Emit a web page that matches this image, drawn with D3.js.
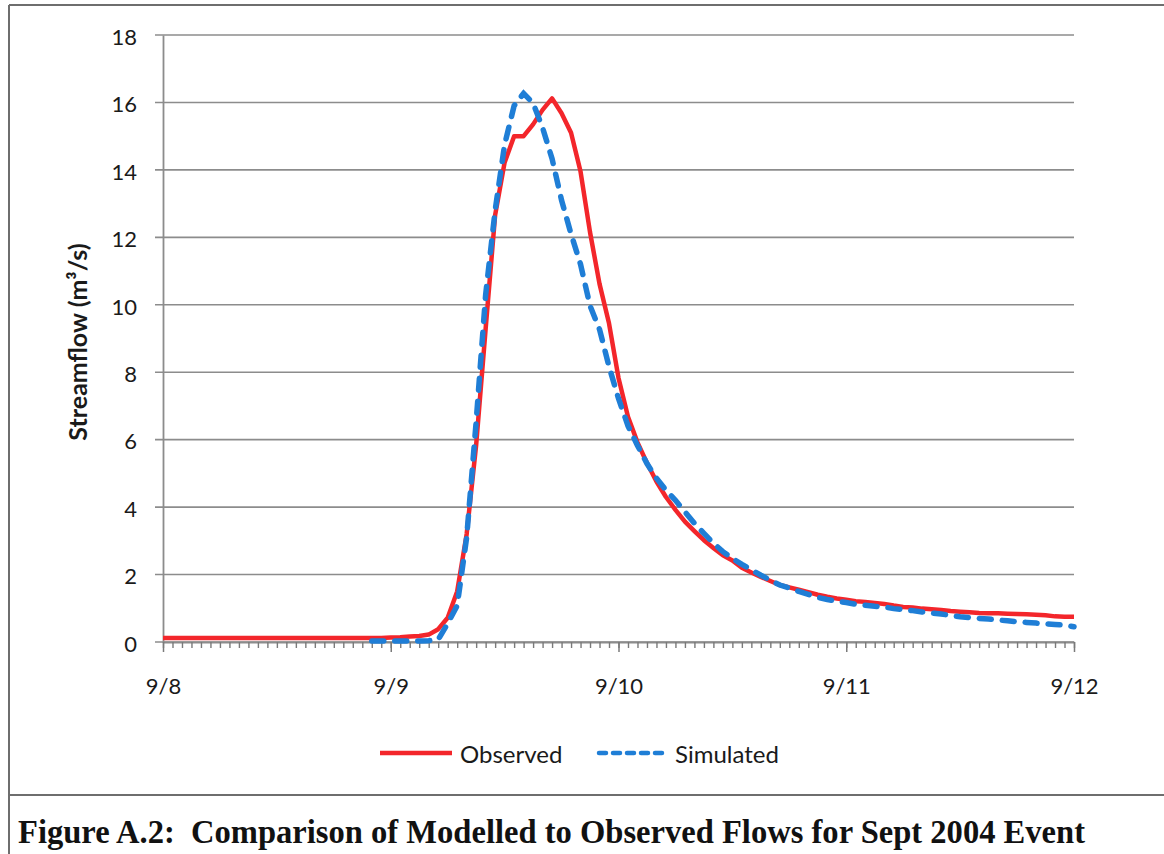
<!DOCTYPE html>
<html>
<head>
<meta charset="utf-8">
<script src="https://cdn.jsdelivr.net/npm/d3@7/dist/d3.min.js"></script>
<style>
  html, body { margin: 0; padding: 0; background: #fff; }
  svg { display: block; }
</style>
</head>
<body>
<svg id="chart" width="1164" height="854"></svg>
<script>
// ---------------- DATA ----------------
const dayLabels = ["9/8", "9/9", "9/10", "9/11", "9/12"];
const dayHours = [0, 24, 48, 72, 96];
const yTicks = [0, 2, 4, 6, 8, 10, 12, 14, 16, 18];
const seriesNames = ["Observed", "Simulated"];

// Observed streamflow (m3/s), hourly from 9/8 00:00 to 9/12 00:00
const observed = [
  0.12,0.12,0.12,0.12,0.12,0.12,0.12,0.12,0.12,0.12,0.12,0.12,
  0.12,0.12,0.12,0.12,0.12,0.12,0.12,0.12,0.12,0.12,0.12,0.12,
  0.13,0.14,0.16,0.18,0.22,0.38,0.72,1.5,3.2,5.84,9.29,12.66,
  14.22,15.0,15.0,15.35,15.78,16.12,15.68,15.1,13.95,12.15,10.62,9.45,
  7.83,6.68,5.92,5.31,4.76,4.3,3.92,3.57,3.29,3.02,2.79,2.57,
  2.42,2.2,2.06,1.93,1.81,1.69,1.62,1.55,1.48,1.4,1.34,1.29,
  1.25,1.21,1.19,1.16,1.13,1.08,1.04,1.02,0.99,0.97,0.95,0.92,
  0.9,0.88,0.86,0.85,0.85,0.84,0.83,0.82,0.81,0.79,0.76,0.75,
  0.75
];
// Simulated streamflow (m3/s), hourly, starting 9/8 22:00
const simStartHour = 22;
const simulated = [
  0.03,0.03,
  0.03,0.03,0.03,0.03,0.04,0.07,0.55,1.08,3.1,6.53,10.3,12.8,
  14.75,15.9,16.27,15.98,15.25,14.33,13.1,12.1,11.2,9.97,9.27,8.17,
  7.22,6.41,5.83,5.29,4.86,4.5,4.2,3.86,3.52,3.22,2.93,2.68,
  2.48,2.3,2.14,1.98,1.83,1.69,1.6,1.5,1.41,1.32,1.26,1.21,
  1.17,1.12,1.09,1.06,1.04,0.99,0.96,0.93,0.89,0.86,0.83,0.79,
  0.75,0.72,0.7,0.68,0.65,0.63,0.6,0.58,0.56,0.54,0.52,0.5,
  0.45
];

// ---------------- LAYOUT ----------------
const svg = d3.select("#chart");
const W = 1164, H = 854;
const plot = { left: 163, right: 1074, top: 35, bottom: 642 };
const gray = "#8c8c8c";
const red = "#f3262b";
const blue = "#1f7ed6";
const sansFont = "Lato, 'Open Sans', 'Noto Sans', sans-serif";

svg.append("rect").attr("width", W).attr("height", H).attr("fill", "#fff");

// frame
const frame = svg.append("g").attr("stroke", "#6e6e6e").attr("stroke-width", 2).attr("fill", "none");
frame.append("line").attr("x1", 9).attr("y1", 5).attr("x2", W).attr("y2", 5);
frame.append("line").attr("x1", 9).attr("y1", 5).attr("x2", 9).attr("y2", H);
frame.append("line").attr("x1", 9).attr("y1", 795).attr("x2", W).attr("y2", 795);

// scales
const x = d3.scaleLinear().domain([0, 96]).range([plot.left, plot.right]);
const y = d3.scaleLinear().domain([0, 18]).range([plot.bottom, plot.top]);

// gridlines (extend outward as tick marks)
svg.append("g")
  .selectAll("line")
  .data(yTicks)
  .join("line")
  .attr("x1", plot.left - 8)
  .attr("x2", plot.right)
  .attr("y1", d => y(d))
  .attr("y2", d => y(d))
  .attr("stroke", gray)
  .attr("stroke-width", 1.6);

// y axis
const yAxis = svg.append("g")
  .attr("transform", `translate(${plot.left},0)`)
  .call(d3.axisLeft(y).tickValues(yTicks).tickSize(0).tickPadding(26).tickFormat(d3.format("d")));
yAxis.select(".domain").attr("stroke", gray).attr("stroke-width", 1.8);
yAxis.selectAll("text")
  .attr("font-family", sansFont)
  .attr("font-size", 22)
  .attr("fill", "#1a1a1a")
  .attr("dy", "0.42em");

// x axis minor (hourly)
const xMinor = svg.append("g")
  .attr("transform", `translate(0,${plot.bottom})`)
  .call(d3.axisBottom(x).tickValues(d3.range(0, 97)).tickSize(6).tickSizeOuter(0).tickFormat(""));
xMinor.select(".domain").attr("stroke", gray).attr("stroke-width", 1.8);
xMinor.selectAll(".tick line").attr("stroke", "#7a7a7a").attr("stroke-width", 1.4);

// x axis major (daily)
const xMajor = svg.append("g")
  .attr("transform", `translate(0,${plot.bottom})`)
  .call(d3.axisBottom(x).tickValues(dayHours).tickSize(10).tickSizeOuter(0)
        .tickFormat((d, i) => dayLabels[i]));
xMajor.select(".domain").remove();
xMajor.selectAll(".tick line").attr("stroke", "#7a7a7a").attr("stroke-width", 1.5);
xMajor.selectAll("text")
  .attr("font-family", sansFont)
  .attr("font-size", 22)
  .attr("fill", "#1a1a1a")
  .attr("y", 52)
  .attr("dy", 0);

// y title
svg.append("text")
  .attr("transform", "translate(87,342) rotate(-90)")
  .attr("text-anchor", "middle")
  .attr("font-family", sansFont)
  .attr("font-weight", "bold")
  .attr("font-size", 25)
  .attr("fill", "#1a1a1a")
  .text("Streamflow (m³/s)");

// lines
const line = d3.line().x(d => x(d.h)).y(d => y(d.v));
const obsData = observed.map((v, i) => ({ h: i, v }));
const simData = simulated.map((v, i) => ({ h: i + simStartHour, v }));

svg.append("path")
  .datum(obsData)
  .attr("d", line)
  .attr("fill", "none")
  .attr("stroke", red)
  .attr("stroke-width", 4.5)
  .attr("stroke-linejoin", "round");

svg.append("path")
  .datum(simData)
  .attr("d", line)
  .attr("fill", "none")
  .attr("stroke", blue)
  .attr("stroke-width", 5.5)
  .attr("stroke-linecap", "round")
  .attr("stroke-dasharray", "12,11");

// legend
const lg = svg.append("g");
lg.append("line").attr("x1", 380).attr("x2", 452).attr("y1", 753).attr("y2", 753)
  .attr("stroke", red).attr("stroke-width", 4.5);
lg.append("text").attr("x", 460).attr("y", 763).text(seriesNames[0]);
lg.append("line").attr("x1", 599).attr("x2", 665).attr("y1", 753).attr("y2", 753)
  .attr("stroke", blue).attr("stroke-width", 4.5).attr("stroke-linecap", "round")
  .attr("stroke-dasharray", "7,7");
lg.append("text").attr("x", 675).attr("y", 763).text(seriesNames[1]);
lg.selectAll("text")
  .attr("font-family", sansFont)
  .attr("font-size", 24)
  .attr("fill", "#1a1a1a");

// caption
svg.append("text")
  .attr("x", 18)
  .attr("y", 843)
  .attr("font-family", "'Liberation Serif', 'Times New Roman', serif")
  .attr("font-weight", "bold")
  .attr("font-size", 33)
  .attr("textLength", 1067)
  .attr("lengthAdjust", "spacingAndGlyphs")
  .attr("fill", "#111")
  .style("white-space", "pre")
  .text("Figure A.2:  Comparison of Modelled to Observed Flows for Sept 2004 Event");
</script>
</body>
</html>
